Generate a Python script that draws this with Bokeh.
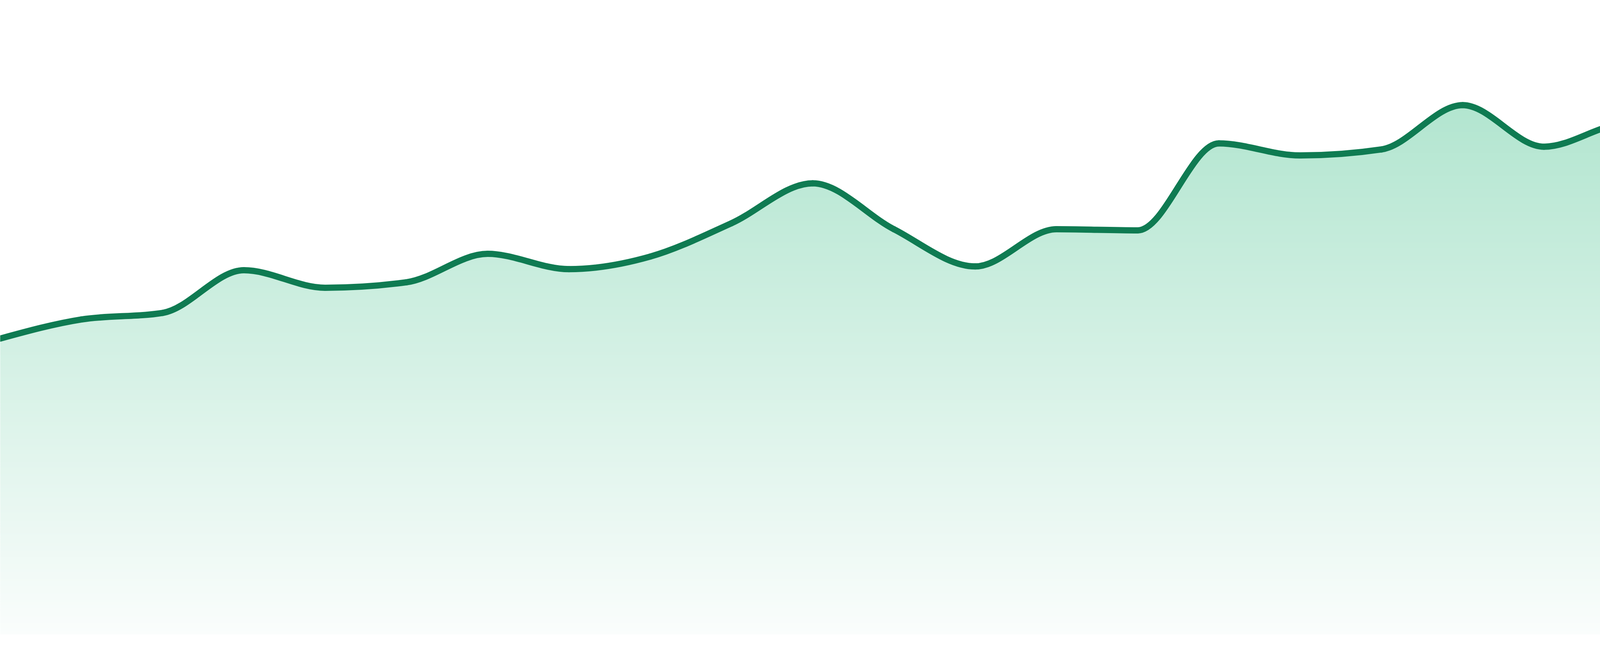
import numpy as np
from bokeh.plotting import figure
from bokeh.models import Range1d, ColumnDataSource
from bokeh.embed import file_html
from bokeh.resources import INLINE

# ---------------- data ----------------
x_index = list(range(24))
values = [54.1, 57.6, 58.8, 66.6, 63.4, 64.4, 69.6, 66.8, 69.1, 75.2, 82.5, 74.1,
          67.3, 74.1, 73.9, 89.8, 87.6, 88.7, 96.8, 89.2, 93.4, 93.6, 102.2, 97.0]

# ---------------- styles ----------------
LINE_COLOR = "#0f7b52"
LINE_WIDTH = 16
TOP_RGB = (174, 228, 205)
BOTTOM_RGB = (250, 253, 252)

W, H = 4784, 1664
PX_PER_UNIT = 14.0
Y_MIN = -40 / PX_PER_UNIT
Y_MAX = 1624 / PX_PER_UNIT


def monotone_tangents(x, y):
    """Tangents of a monotone cubic (Steffen, as d3.curveMonotoneX)."""
    x = np.asarray(x, float)
    y = np.asarray(y, float)
    n = len(x)
    h = np.diff(x)
    s = np.diff(y) / h
    m = np.zeros(n)
    for i in range(1, n - 1):
        h0, h1, s0, s1 = h[i - 1], h[i], s[i - 1], s[i]
        p = (s0 * h1 + s1 * h0) / (h0 + h1)
        m[i] = (np.sign(s0) + np.sign(s1)) * min(abs(s0), abs(s1), 0.5 * abs(p))
    m[0] = (3 * s[0] - m[1]) / 2
    m[-1] = (3 * s[-1] - m[-2]) / 2
    return m


xs_d = np.asarray(x_index, float)
ys_d = np.asarray(values, float)
tang = monotone_tangents(xs_d, ys_d)

# bezier control points for each segment (the smooth line)
dx = np.diff(xs_d)
seg = dict(
    x0=xs_d[:-1], y0=ys_d[:-1], x1=xs_d[1:], y1=ys_d[1:],
    cx0=xs_d[:-1] + dx / 3, cy0=ys_d[:-1] + tang[:-1] * dx / 3,
    cx1=xs_d[1:] - dx / 3, cy1=ys_d[1:] - tang[1:] * dx / 3,
)

# the same curve traced, for the filled shape under it
cx, cy = [], []
t = np.linspace(0, 1, 21)
for i in range(len(dx)):
    P0 = np.array([seg["x0"][i], seg["y0"][i]])
    C0 = np.array([seg["cx0"][i], seg["cy0"][i]])
    C1 = np.array([seg["cx1"][i], seg["cy1"][i]])
    P1 = np.array([seg["x1"][i], seg["y1"][i]])
    tt = t if i == 0 else t[1:]
    b = ((1 - tt) ** 3)[:, None] * P0 + (3 * (1 - tt) ** 2 * tt)[:, None] * C0 \
        + (3 * (1 - tt) * tt ** 2)[:, None] * C1 + (tt ** 3)[:, None] * P1
    cx.extend(b[:, 0])
    cy.extend(b[:, 1])
cx = np.array(cx)
cy = np.array(cy)

p = figure(width=W, height=H, x_range=Range1d(0, len(x_index) - 1),
           y_range=Range1d(Y_MIN, Y_MAX), output_backend="svg",
           toolbar_location=None, x_axis_location=None, y_axis_location=None,
           min_border=0)
p.grid.visible = False
p.outline_line_color = None
p.background_fill_color = "white"
p.border_fill_color = "white"

# vertical gradient fill of the area, built from thin horizontal bands
vmax = float(max(values))
vmin_curve = float(cy.min())
N = 360
step = vmax / N
ov = step * 0.6


def band_color(i):
    f = (i + 0.5) / N
    r = [round(BOTTOM_RGB[k] + (TOP_RGB[k] - BOTTOM_RGB[k]) * f) for k in range(3)]
    return "#%02x%02x%02x" % tuple(r)


q_bot, q_top, q_col = [], [], []
pxs, pys, pcol = [], [], []
for i in range(N):
    b = i * step
    tp = (i + 1) * step + ov
    if tp <= vmin_curve:
        q_bot.append(b)
        q_top.append(tp)
        q_col.append(band_color(i))
    else:
        sel = cy > b
        idx = np.where(sel)[0]
        lo = max(idx.min() - 1, 0)
        hi = min(idx.max() + 1, len(cx) - 1)
        xx = cx[lo:hi + 1]
        yy = np.clip(cy[lo:hi + 1], b, tp)
        pxs.append(np.concatenate([xx, xx[::-1]]))
        pys.append(np.concatenate([yy, np.full(len(xx), b)]))
        pcol.append(band_color(i))

p.quad(left=0, right=len(x_index) - 1, bottom=q_bot, top=q_top,
       fill_color=q_col, line_color=None)
p.patches(xs=pxs, ys=pys, fill_color=pcol, line_color=None)

p.bezier(source=ColumnDataSource(seg), x0="x0", y0="y0", x1="x1", y1="y1",
         cx0="cx0", cy0="cy0", cx1="cx1", cy1="cy1",
         line_color=LINE_COLOR, line_width=LINE_WIDTH, line_cap="round")

open("out.html", "w").write(file_html(p, INLINE))
